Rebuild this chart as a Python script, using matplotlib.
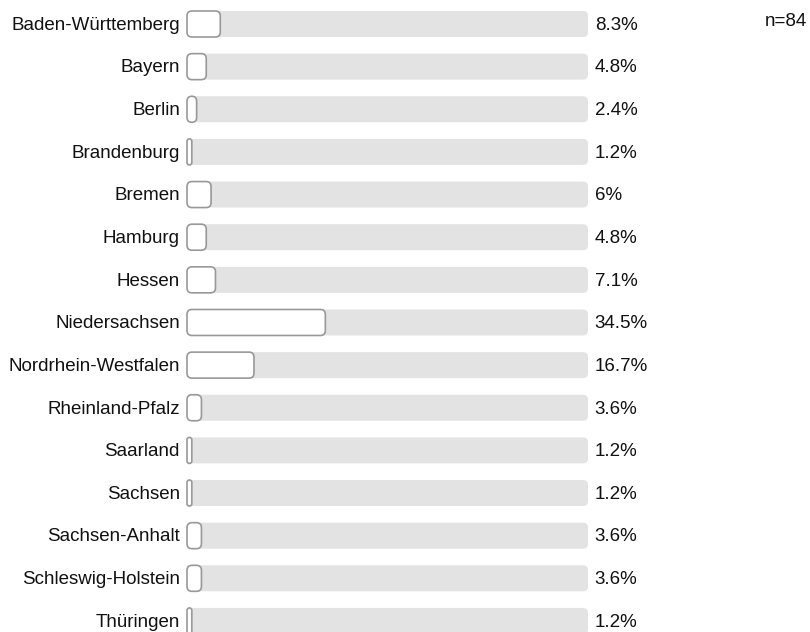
import matplotlib.pyplot as plt
from matplotlib.patches import FancyBboxPatch

plt.rcParams['font.family'] = ['Liberation Sans', 'DejaVu Sans']

# Bundesländer and their shares
states = ["Baden-Württemberg", "Bayern", "Berlin", "Brandenburg", "Bremen",
          "Hamburg", "Hessen", "Niedersachsen", "Nordrhein-Westfalen",
          "Rheinland-Pfalz", "Saarland", "Sachsen", "Sachsen-Anhalt",
          "Schleswig-Holstein", "Thüringen"]
shares = [8.3, 4.8, 2.4, 1.2, 6, 4.8, 7.1, 34.5, 16.7, 3.6, 1.2, 1.2, 3.6, 3.6, 1.2]
labels = ["8.3%", "4.8%", "2.4%", "1.2%", "6%", "4.8%", "7.1%", "34.5%", "16.7%",
          "3.6%", "1.2%", "1.2%", "3.6%", "3.6%", "1.2%"]
n_total = 84

W, H = 810, 632
fig = plt.figure(figsize=(W / 100, H / 100), dpi=100)

left_px, right_px = 187, 588
top_px, step_px = 24, 42.64
ax = fig.add_axes([left_px / W, 0, (right_px - left_px) / W, 1])
ax.set_xlim(0, 100)
ax.set_ylim((H - top_px) / step_px, -top_px / step_px)
ax.axis('off')

# aspect for rounded corners (pixels per unit)
px_x = (right_px - left_px) / 100
px_y = step_px
asp = px_x / px_y
rad = 5 / px_x
bar_h = 26 / px_y

for i, (s, v, lab) in enumerate(zip(states, shares, labels)):
    bg = FancyBboxPatch((0, i - bar_h / 2), 100, bar_h,
                        boxstyle=f"round,pad=0,rounding_size={rad}",
                        mutation_aspect=asp, facecolor='#e3e3e3',
                        edgecolor='none', clip_on=False)
    ax.add_patch(bg)
    r = min(rad, v / 2)
    fg = FancyBboxPatch((0, i - bar_h / 2), v, bar_h,
                        boxstyle=f"round,pad=0,rounding_size={r}",
                        mutation_aspect=asp, facecolor='white',
                        edgecolor='#999999', linewidth=1.2, clip_on=False)
    ax.add_patch(fg)
    ax.text(-1.75, i + 0.03, s, ha='right', va='center', fontsize=13.5, color='#111111')
    ax.text(101.7, i + 0.03, lab, ha='left', va='center', fontsize=13.5, color='#111111')

fig.text(807 / W, 1 - 22 / H, f"n={n_total}", ha='right', va='center',
         fontsize=13.5, color='#111111')

fig.savefig("out.png", dpi=100)
